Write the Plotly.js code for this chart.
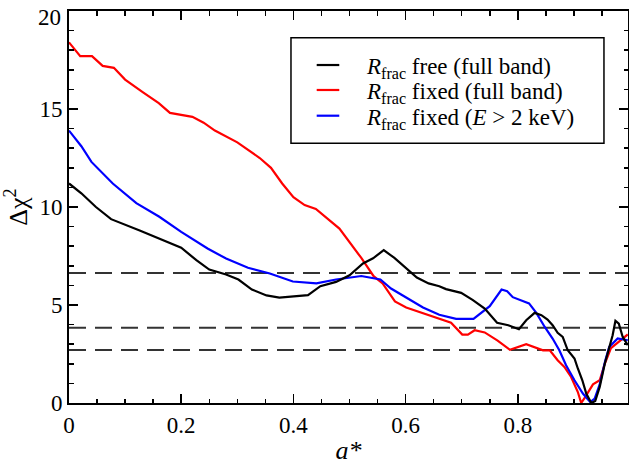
<!DOCTYPE html>
<html>
<head>
<meta charset="utf-8">
<script src="https://cdn.plot.ly/plotly-3.0.1.min.js"></script>
<style>html,body{margin:0;padding:0;background:#fff;}#chart{width:629px;height:465px;}</style>
</head>
<body>
<div id="chart"></div>
<script>
// a* values and Delta chi^2 for each fit
const blackX = [0,0.022,0.048,0.075,0.126,0.161,0.2,0.227,0.25,0.28,0.302,0.326,0.352,0.375,0.426,0.448,0.476,0.5,0.524,0.542,0.561,0.58,0.601,0.62,0.641,0.66,0.672,0.699,0.72,0.741,0.763,0.783,0.802,0.815,0.83,0.842,0.853,0.862,0.871,0.88,0.889,0.901,0.907,0.915,0.922,0.931,0.938,0.946,0.955,0.963,0.969,0.974,0.98,0.987,0.996];
const blackY = [11.2,10.7,10.0,9.38,8.8,8.38,7.92,7.29,6.81,6.56,6.3,5.79,5.49,5.38,5.5,5.96,6.18,6.52,7.12,7.38,7.8,7.4,6.89,6.4,6.1,5.96,5.81,5.62,5.25,4.82,4.09,3.97,3.76,4.22,4.6,4.48,4.26,3.97,3.58,3.37,2.69,2.27,1.76,1.16,0.48,0.0,0.1,0.82,2.0,2.78,3.46,4.19,4.05,3.37,2.95];

const redX = [0,0.02,0.041,0.06,0.08,0.1,0.132,0.16,0.18,0.22,0.24,0.26,0.3,0.34,0.36,0.38,0.4,0.42,0.44,0.482,0.521,0.543,0.559,0.581,0.601,0.643,0.681,0.701,0.711,0.723,0.741,0.764,0.786,0.815,0.845,0.857,0.871,0.883,0.895,0.907,0.913,0.92,0.928,0.934,0.946,0.955,0.966,0.978,0.996];
const redY = [18.4,17.7,17.7,17.2,17.1,16.5,15.85,15.3,14.8,14.6,14.3,13.9,13.3,12.5,12.0,11.2,10.5,10.1,9.9,8.9,7.4,6.47,6.1,5.18,4.87,4.48,4.1,3.49,3.49,3.71,3.6,3.18,2.71,3.0,2.69,2.69,2.18,1.84,1.33,0.56,0.0,0.3,0.65,0.95,1.16,2.0,2.8,3.1,3.5];

const blueX = [0,0.022,0.04,0.078,0.12,0.161,0.2,0.247,0.28,0.319,0.358,0.399,0.441,0.476,0.521,0.555,0.574,0.601,0.631,0.66,0.69,0.721,0.75,0.771,0.781,0.791,0.82,0.833,0.848,0.862,0.874,0.886,0.901,0.916,0.929,0.937,0.946,0.956,0.963,0.978,0.996];
const blueY = [13.9,13.1,12.3,11.2,10.2,9.5,8.73,7.88,7.37,6.9,6.61,6.2,6.1,6.3,6.48,6.3,5.84,5.36,4.87,4.5,4.29,4.29,4.94,5.79,5.7,5.4,5.08,4.6,3.88,3.29,2.69,1.93,1.16,0.48,0.05,0.22,0.95,2.18,2.86,3.29,3.2];

// confidence thresholds (dashed lines)
const thresholds = [2.71, 3.84, 6.63];

// tick labels (the top y label is drawn just inside the figure, as in the original)
const xTickVals = [0, 0.2, 0.4, 0.6, 0.8];
const xTickText = ['0', '0.2', '0.4', '0.6', '0.8'];
const yTickVals = [0, 5, 10, 15, 20];
const yTickText = ['0', '5', '10', '15', '20'];

// legend entries, in legend order
const seriesNames = [
  '<i>R</i><sub>frac</sub> free (full band)',
  '<i>R</i><sub>frac</sub> fixed (full band)',
  '<i>R</i><sub>frac</sub> fixed (<i>E</i> &gt; 2 keV)'
];
const seriesColors = ['#000000', '#ff0000', '#0000ff'];

const FONT = "'Times New Roman', 'Liberation Serif', Tinos, serif";

const dashTraces = thresholds.map(v => ({
  x: [0, 1], y: [v, v], mode: 'lines', type: 'scatter',
  line: {color: '#333333', width: 2, dash: '17px,9px'},
  showlegend: false, hoverinfo: 'skip'
}));

const data = dashTraces.concat([
  {x: redX, y: redY, name: seriesNames[1], mode: 'lines', type: 'scatter',
   line: {color: seriesColors[1], width: 2.2}, showlegend: false},
  {x: blueX, y: blueY, name: seriesNames[2], mode: 'lines', type: 'scatter',
   line: {color: seriesColors[2], width: 2.2}, showlegend: false},
  {x: blackX, y: blackY, name: seriesNames[0], mode: 'lines', type: 'scatter',
   line: {color: seriesColors[0], width: 2.2}, showlegend: false}
]);

// legend box drawn in paper coordinates
const legBox = {x0: 0.3971, x1: 0.957, y0: 0.6625, y1: 0.9319};
const legRows = [0.8622, 0.7985, 0.7329];
const legLineX = [0.4431, 0.4835];
const legTextX = 0.5285;

const shapes = [{
  type: 'rect', xref: 'paper', yref: 'paper',
  x0: legBox.x0, x1: legBox.x1, y0: legBox.y0, y1: legBox.y1,
  line: {color: '#000', width: 1.5}, fillcolor: '#fff', layer: 'above'
}].concat(legRows.map((ry, i) => ({
  type: 'line', xref: 'paper', yref: 'paper',
  x0: legLineX[0], x1: legLineX[1], y0: ry, y1: ry,
  line: {color: seriesColors[i], width: 2.2}, layer: 'above'
})));

const annotations = legRows.map((ry, i) => ({
  xref: 'paper', yref: 'paper', x: legTextX, y: ry, yshift: -3,
  xanchor: 'left', yanchor: 'middle', showarrow: false,
  text: seriesNames[i], font: {family: FONT, size: 23, color: '#000'}
}));
// top y tick label, nudged down so it stays inside the figure
annotations.push({
  xref: 'paper', yref: 'y', x: 0, y: yTickVals[yTickVals.length - 1],
  xanchor: 'right', yanchor: 'middle', xshift: -6, yshift: -6, showarrow: false,
  text: yTickText[yTickText.length - 1], font: {family: FONT, size: 23, color: '#000'}
});

const axisCommon = {
  showgrid: false, zeroline: false, showline: true, linecolor: '#000', linewidth: 2,
  mirror: 'allticks', ticks: 'inside', ticklen: 9, tickwidth: 1.5, tickcolor: '#000',
  tickfont: {family: FONT, size: 23, color: '#000'}
};

const layout = {
  width: 629, height: 465,
  margin: {l: 69, r: 1, t: 11, b: 62},
  paper_bgcolor: '#fff', plot_bgcolor: '#fff',
  font: {family: FONT, color: '#000'},
  showlegend: false,
  xaxis: Object.assign({}, axisCommon, {
    range: [0, 0.9964], tickmode: 'array', tickvals: xTickVals, ticktext: xTickText,
    minor: {dtick: 0.05, tick0: 0, ticks: 'inside', ticklen: 4.5, tickwidth: 1.5, tickcolor: '#000'},
    title: {text: '<i>a*</i>', font: {family: FONT, size: 26, color: '#000'}, standoff: 6}
  }),
  yaxis: Object.assign({}, axisCommon, {
    range: [0, 20], tickmode: 'array', tickvals: yTickVals.slice(0, -1), ticktext: yTickText.slice(0, -1),
    minor: {dtick: 1, tick0: 0, ticks: 'inside', ticklen: 4.5, tickwidth: 1.5, tickcolor: '#000'},
    title: {text: 'Δχ<sup>2</sup>', font: {family: FONT, size: 26, color: '#000'}, standoff: 4}
  }),
  shapes: shapes,
  annotations: annotations
};

Plotly.newPlot('chart', data, layout, {displayModeBar: false, staticPlot: true});
</script>
</body>
</html>
